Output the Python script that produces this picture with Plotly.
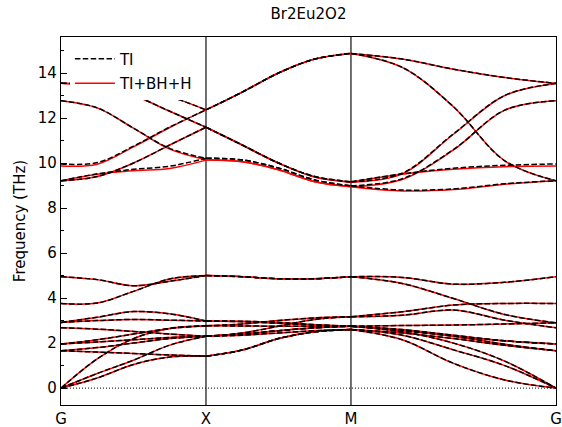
import numpy as np
import plotly.graph_objects as go

# ---------------- data ----------------
chart_title = "Br2Eu2O2"
node_labels = ["G", "X", "M", "G"]
segment_lengths = [1.0, 1.0, float(np.sqrt(2.0))]
segment_fracs = [0.0, 0.25, 0.5, 0.75, 1.0]   # sampling along each segment
series_names = ["TI", "TI+BH+H"]

# Each band: 13 values -> G-X (5 pts), X-M (4 more), M-G (4 more)
# Lower 12 bands (identical in both calculations)
low_01 = [4.95, 4.82, 4.55, 4.75, 5.00, 4.95, 4.86, 4.86, 4.95, 4.92, 4.62, 4.70, 4.95]
low_02 = [3.76, 3.78, 4.30, 4.85, 5.00, 4.95, 4.86, 4.86, 4.95, 4.65, 3.98, 3.27, 2.90]
low_03 = [2.92, 3.15, 3.40, 3.30, 2.98, 2.97, 2.92, 2.82, 2.75, 2.78, 2.80, 2.85, 2.90]
low_04 = [2.92, 3.00, 3.05, 3.02, 2.98, 2.95, 2.88, 2.80, 2.75, 2.60, 2.35, 2.10, 1.96]
low_05 = [2.68, 2.62, 2.52, 2.40, 2.30, 2.45, 2.75, 3.05, 3.17, 3.39, 3.69, 3.76, 3.76]
low_06 = [0.00, 1.30, 2.20, 2.65, 2.77, 2.85, 3.00, 3.12, 3.17, 3.24, 3.47, 3.02, 2.68]
low_07 = [1.96, 2.15, 2.40, 2.65, 2.77, 2.76, 2.75, 2.75, 2.75, 2.58, 2.32, 2.10, 1.96]
low_08 = [1.96, 2.05, 2.15, 2.25, 2.30, 2.40, 2.55, 2.68, 2.75, 2.55, 2.30, 1.95, 1.66]
low_09 = [1.66, 1.80, 2.00, 2.20, 2.30, 2.35, 2.45, 2.55, 2.60, 2.45, 2.20, 1.90, 1.66]
low_10 = [0.00, 0.65, 1.24, 1.91, 2.30, 2.40, 2.55, 2.68, 2.75, 2.50, 2.00, 1.20, 0.00]
low_11 = [1.66, 1.60, 1.54, 1.47, 1.42, 1.69, 2.20, 2.50, 2.60, 2.35, 1.70, 1.00, 0.00]
low_12 = [0.00, 0.45, 1.05, 1.38, 1.42, 1.69, 2.20, 2.50, 2.60, 2.15, 1.10, 0.36, 0.00]

# Upper 6 bands, TI
ti_up1 = [13.55, 13.50, 13.30, 12.95, 12.36, 13.15, 14.00, 14.62, 14.87, 14.62, 14.17, 13.80, 13.54]
ti_up2 = [13.55, 13.40, 13.00, 12.30, 11.59, 10.80, 10.00, 9.40, 9.17, 9.55, 11.30, 13.00, 13.54]
ti_up3 = [12.77, 12.45, 11.55, 10.65, 10.21, 10.14, 9.78, 9.25, 8.99, 9.30, 10.60, 12.35, 12.77]
ti_up4 = [9.96, 10.02, 10.75, 11.60, 12.36, 13.15, 14.00, 14.62, 14.87, 14.25, 12.50, 10.10, 9.21]
ti_up5 = [9.21, 9.40, 10.00, 10.80, 11.59, 10.80, 10.00, 9.40, 9.17, 9.52, 9.77, 9.90, 9.96]
ti_up6 = [9.21, 9.52, 9.72, 9.86, 10.21, 10.14, 9.78, 9.25, 8.99, 8.80, 8.85, 9.08, 9.21]

# Upper 6 bands, TI+BH+H
bh_up1 = [13.55, 13.50, 13.30, 12.95, 12.36, 13.15, 14.00, 14.62, 14.87, 14.62, 14.17, 13.80, 13.54]
bh_up2 = [13.55, 13.40, 13.00, 12.30, 11.59, 10.80, 10.00, 9.38, 9.15, 9.52, 11.28, 13.00, 13.54]
bh_up3 = [12.77, 12.45, 11.55, 10.62, 10.15, 10.06, 9.70, 9.17, 8.95, 9.27, 10.58, 12.35, 12.77]
bh_up4 = [9.87, 9.95, 10.72, 11.58, 12.36, 13.15, 14.00, 14.62, 14.87, 14.25, 12.50, 10.10, 9.21]
bh_up5 = [9.21, 9.40, 10.00, 10.80, 11.59, 10.80, 10.00, 9.38, 9.15, 9.50, 9.72, 9.84, 9.87]
bh_up6 = [9.21, 9.50, 9.66, 9.76, 10.13, 10.06, 9.70, 9.17, 8.95, 8.76, 8.82, 9.06, 9.21]

lower_bands = [low_01, low_02, low_03, low_04, low_05, low_06, low_07, low_08,
               low_09, low_10, low_11, low_12]
ti_bands = lower_bands + [ti_up1, ti_up2, ti_up3, ti_up4, ti_up5, ti_up6]
bh_bands = lower_bands + [bh_up1, bh_up2, bh_up3, bh_up4, bh_up5, bh_up6]

# ---------------- geometry of the k-path ----------------
node_pos = [0.0]
for L in segment_lengths:
    node_pos.append(node_pos[-1] + L)

seg_x = []
for i, L in enumerate(segment_lengths):
    seg_x.append([node_pos[i] + f * L for f in segment_fracs])


def build_xy(bands):
    xs, ys = [], []
    n = len(segment_fracs)
    for b in bands:
        for s in range(len(segment_lengths)):
            start = s * (n - 1)
            vals = b[start:start + n]
            xs += seg_x[s] + [None]
            ys += vals + [None]
    return xs, ys


fig = go.Figure()

bx, by = build_xy(bh_bands)
fig.add_trace(go.Scatter(x=bx, y=by, mode="lines", name=series_names[1],
                         line=dict(color="red", width=1.5, shape="spline", smoothing=1.0),
                         connectgaps=False, legendrank=2, legendgroup="b"))
tx, ty = build_xy(ti_bands)
fig.add_trace(go.Scatter(x=tx, y=ty, mode="lines", name=series_names[0],
                         line=dict(color="black", width=1.5, dash="5.5px,2.4px",
                                   shape="spline", smoothing=1.0),
                         connectgaps=False, legendrank=1, legendgroup="a"))

shapes = []
for p in node_pos[1:-1]:
    shapes.append(dict(type="line", xref="x", yref="paper", x0=p, x1=p, y0=0, y1=1,
                       line=dict(color="#222222", width=1.3), layer="below"))
shapes.append(dict(type="line", xref="x", yref="y", x0=node_pos[0], x1=node_pos[-1],
                   y0=0, y1=0, line=dict(color="black", width=1, dash="1px,2px"),
                   layer="below"))

fig.update_layout(
    width=562, height=427,
    margin=dict(l=61, r=6, t=37, b=22, autoexpand=False),
    paper_bgcolor="white", plot_bgcolor="white",
    font=dict(family="DejaVu Sans", size=15, color="black"),
    title=dict(text=chart_title, x=0.5, xref="paper", xanchor="center",
               y=1 - 14 / 427, yref="container", yanchor="middle",
               font=dict(size=15)),
    showlegend=True,
    legend=dict(x=0.018, y=0.985, xanchor="left", yanchor="top",
                bgcolor="white", borderwidth=0, font=dict(size=15),
                itemwidth=40, traceorder="grouped", tracegroupgap=2),
    shapes=shapes,
)
fig.update_xaxes(range=[node_pos[0], node_pos[-1]], tickvals=node_pos, ticktext=node_labels,
                 ticks="", showgrid=False, zeroline=False, showline=True,
                 linecolor="black", linewidth=1.2, mirror=True, automargin=False,
                 tickfont=dict(size=15))
fig.update_yaxes(range=[-0.75, 15.6], tickvals=list(range(0, 15, 2)),
                 ticks="inside", ticklen=6, tickwidth=1, tickcolor="black",
                 minor=dict(ticks="inside", ticklen=3, dtick=1, tick0=0, tickcolor="black"),
                 showgrid=False, zeroline=False, showline=True,
                 linecolor="black", linewidth=1.2, mirror=True, automargin=False,
                 title=dict(text="Frequency (THz)", font=dict(size=15), standoff=8),
                 tickfont=dict(size=15))

fig.write_html("out.html")
